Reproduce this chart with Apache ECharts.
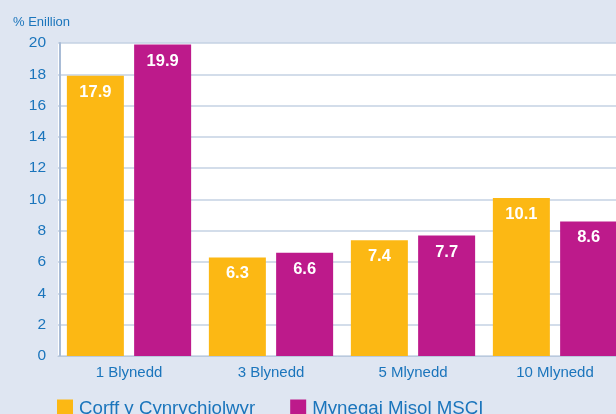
<!DOCTYPE html>
<html><head><meta charset="utf-8">
<script src="https://cdn.jsdelivr.net/npm/echarts@6/dist/echarts.min.js"></script>
<style>html,body{margin:0;padding:0;background:#dfe6f2;}#c{width:616px;height:414px;}</style>
</head><body><div id="c"></div>
<script>
const categories = ['1 Blynedd', '3 Blynedd', '5 Mlynedd', '10 Mlynedd'];
const seriesNames = ['Corff y Cynrychiolwyr', 'Mynegai Misol MSCI'];
const corffValues = [17.9, 6.3, 7.4, 10.1];
const msciValues = [19.9, 6.6, 7.7, 8.6];
const yTicks = [0, 2, 4, 6, 8, 10, 12, 14, 16, 18, 20];

const chart = echarts.init(document.getElementById('c'), null, {renderer: 'canvas'});
const blue = '#1b75bc';
const labelStyle = {show: true, position: 'insideTop', distance: 8, color: '#fff', fontWeight: 'bold', fontSize: 16.5, fontFamily: 'Liberation Sans, Arial, sans-serif', formatter: p => p.value.toFixed(1)};
chart.setOption({
  backgroundColor: '#dfe6f2',
  animation: false,
  textStyle: {fontFamily: 'Liberation Sans, Arial, sans-serif'},
  title: {text: '% Enillion', left: 8, top: 11, textStyle: {color: blue, fontSize: 13, fontWeight: 'normal'}},
  legend: {
    left: 52, top: 394, itemWidth: 16, itemHeight: 18, itemGap: 35,
    icon: 'rect',
    textStyle: {color: blue, fontSize: 18.7, padding: [0,0,0,1]},
    data: seriesNames
  },
  grid: {left: 58, top: 43, width: 568, height: 313, backgroundColor: '#fff', show: true, borderWidth: 0, outerBoundsMode: 'none', containLabel: false},
  xAxis: {
    type: 'category', data: categories,
    axisLine: {show: true, lineStyle: {color: '#b9c9dd', width: 1}},
    axisTick: {show: false},
    axisLabel: {color: blue, fontSize: 15, margin: 9}
  },
  yAxis: {
    type: 'value', min: 0, max: 20, interval: 2, offset: -2,
    axisLine: {show: true, lineStyle: {color: '#a9bcd6', width: 2}},
    axisTick: {show: false},
    axisLabel: {color: blue, fontSize: 15.5, margin: 14, formatter: v => yTicks.includes(v) ? String(v) : ''},
    splitLine: {lineStyle: {color: '#c5d2e3', width: 1.5}}
  },
  series: [
    {name: seriesNames[0], type: 'bar', data: corffValues, barWidth: 57, barGap: '18%', itemStyle: {color: '#fcb814'}, label: labelStyle},
    {name: seriesNames[1], type: 'bar', data: msciValues, barWidth: 57, barGap: '18%', itemStyle: {color: '#bd1a8b'}, label: labelStyle}
  ]
});
</script></body></html>
